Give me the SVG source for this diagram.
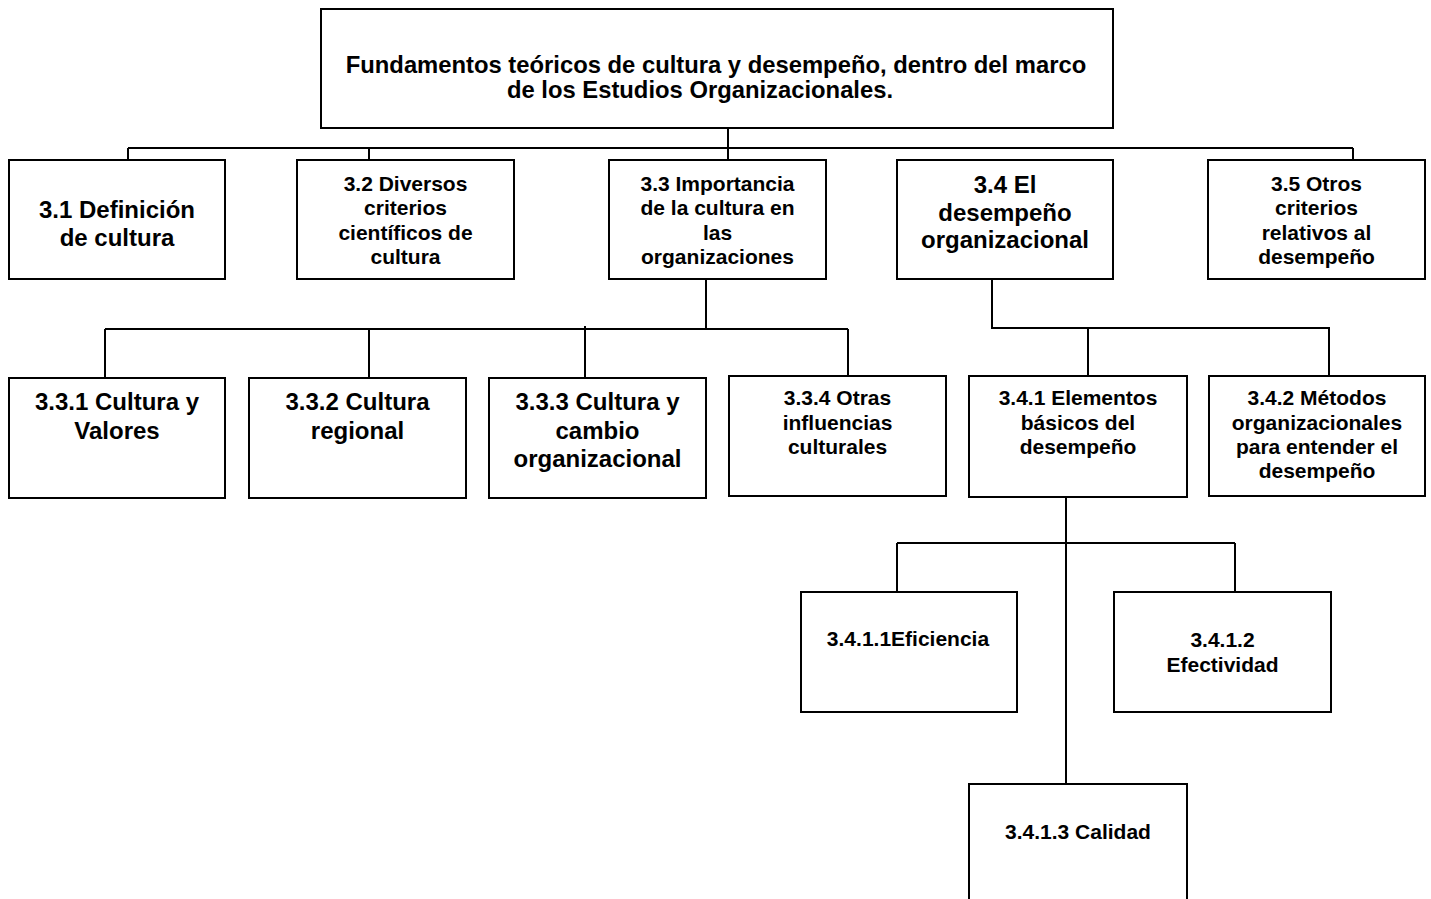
<svg xmlns="http://www.w3.org/2000/svg" width="1431" height="899" viewBox="0 0 1431 899">
<style>
.box{fill:#fff;stroke:#000;stroke-width:2}
.ln{fill:none;stroke:#000;stroke-width:2}
text{font-family:"Liberation Sans",Arial,sans-serif;font-weight:bold;fill:#000;text-anchor:middle}
.t{font-size:23.8px}
.l{font-size:24px}
.m{font-size:21px}
</style>
<rect width="1431" height="899" fill="#fff"/>
<g id="connectors">
<path class="ln" d="M728 128V160M128 148H1353M128 148V160M369 148V160M1353 148V160"/>
<path class="ln" d="M706 279V329M105 329H848M105 329V378M369 329V378M585 326V378M848 329V376"/>
<path class="ln" d="M992 279V328H1329V376M1088 328V376"/>
<path class="ln" d="M1066 497V784M897 543H1235M897 543V592M1235 543V592"/>
</g>
<g id="n-root"><rect class="box" x="321" y="9" width="792" height="119"/>
<text class="t" x="716" y="73">Fundamentos teóricos de cultura y desempeño, dentro del marco</text>
<text class="t" x="700" y="98">de los Estudios Organizacionales.</text></g>
<g id="n-3-1"><rect class="box" x="9" y="160" width="216" height="119"/>
<text class="l" x="117" y="217.5">3.1 Definición</text><text class="l" x="117" y="246">de cultura</text></g>
<g id="n-3-2"><rect class="box" x="297" y="160" width="217" height="119"/>
<text class="m" x="405.5" y="190.5">3.2 Diversos</text><text class="m" x="405.5" y="215">criterios</text><text class="m" x="405.5" y="240">científicos de</text><text class="m" x="405.5" y="264">cultura</text></g>
<g id="n-3-3"><rect class="box" x="609" y="160" width="217" height="119"/>
<text class="m" x="717.5" y="190.5">3.3 Importancia</text><text class="m" x="717.5" y="215">de la cultura en</text><text class="m" x="717.5" y="240">las</text><text class="m" x="717.5" y="264">organizaciones</text></g>
<g id="n-3-4"><rect class="box" x="897" y="160" width="216" height="119"/>
<text class="l" x="1005" y="192.5">3.4 El</text><text class="l" x="1005" y="220.5">desempeño</text><text class="l" x="1005" y="248">organizacional</text></g>
<g id="n-3-5"><rect class="box" x="1208" y="160" width="217" height="119"/>
<text class="m" x="1316.5" y="190.5">3.5 Otros</text><text class="m" x="1316.5" y="215">criterios</text><text class="m" x="1316.5" y="240">relativos al</text><text class="m" x="1316.5" y="264">desempeño</text></g>
<g id="n-3-3-1"><rect class="box" x="9" y="378" width="216" height="120"/>
<text class="l" x="117" y="410">3.3.1 Cultura y</text><text class="l" x="117" y="438.5">Valores</text></g>
<g id="n-3-3-2"><rect class="box" x="249" y="378" width="217" height="120"/>
<text class="l" x="357.5" y="410">3.3.2 Cultura</text><text class="l" x="357.5" y="438.5">regional</text></g>
<g id="n-3-3-3"><rect class="box" x="489" y="378" width="217" height="120"/>
<text class="l" x="597.5" y="410">3.3.3 Cultura y</text><text class="l" x="597.5" y="438.5">cambio</text><text class="l" x="597.5" y="467">organizacional</text></g>
<g id="n-3-3-4"><rect class="box" x="729" y="376" width="217" height="120"/>
<text class="m" x="837.5" y="405">3.3.4 Otras</text><text class="m" x="837.5" y="429.5">influencias</text><text class="m" x="837.5" y="454">culturales</text></g>
<g id="n-3-4-1"><rect class="box" x="969" y="376" width="218" height="121"/>
<text class="m" x="1078" y="405">3.4.1 Elementos</text><text class="m" x="1078" y="429.5">básicos del</text><text class="m" x="1078" y="454">desempeño</text></g>
<g id="n-3-4-2"><rect class="box" x="1209" y="376" width="216" height="120"/>
<text class="m" x="1317" y="405">3.4.2 Métodos</text><text class="m" x="1317" y="429.5">organizacionales</text><text class="m" x="1317" y="454">para entender el</text><text class="m" x="1317" y="478">desempeño</text></g>
<g id="n-3-4-1-1"><rect class="box" x="801" y="592" width="216" height="120"/>
<text class="m" x="908" y="646">3.4.1.1Eficiencia</text></g>
<g id="n-3-4-1-2"><rect class="box" x="1114" y="592" width="217" height="120"/>
<text class="m" x="1222.5" y="647">3.4.1.2</text><text class="m" x="1222.5" y="672">Efectividad</text></g>
<g id="n-3-4-1-3"><rect class="box" x="969" y="784" width="218" height="130"/>
<text class="m" x="1078" y="838.5">3.4.1.3 Calidad</text></g>
</svg>
